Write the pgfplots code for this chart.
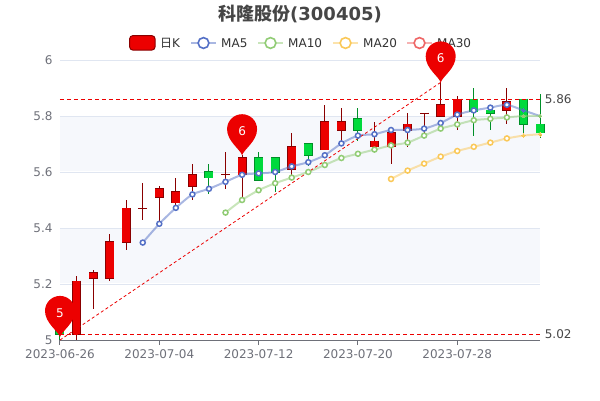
\documentclass[border=0pt]{standalone}
\usepackage{pgfplots}
\usepackage{pgfplotstable}
\pgfplotsset{compat=1.18}
\usepackage{fontspec}
\setmainfont{DejaVu Sans}
\newfontfamily\cjk{Noto Sans CJK SC}

\definecolor{kred}{HTML}{EC0000}
\definecolor{kreddark}{HTML}{8A0000}
\definecolor{kgreen}{HTML}{00DA3C}
\definecolor{kgreendark}{HTML}{008F28}
\definecolor{ma5}{HTML}{5470C6}
\definecolor{ma10}{HTML}{91CC75}
\definecolor{ma20}{HTML}{FAC858}
\definecolor{ma30}{HTML}{EE6666}
\definecolor{gridc}{HTML}{E0E6F1}
\definecolor{bandc}{HTML}{F6F8FC}
\definecolor{axisc}{HTML}{6E7079}
\definecolor{titlec}{HTML}{464646}
\definecolor{legc}{HTML}{333333}

% balloon with its tip on the data point
\pgfdeclareplotmark{pin}{%
  \pgfpathmoveto{\pgfqpoint{0pt}{0pt}}%
  \pgfpathcurveto{\pgfqpoint{-2pt}{6pt}}{\pgfqpoint{-15pt}{14pt}}{\pgfqpoint{-15pt}{26pt}}%
  \pgfpathcurveto{\pgfqpoint{-15pt}{34.3pt}}{\pgfqpoint{-8.3pt}{41pt}}{\pgfqpoint{0pt}{41pt}}%
  \pgfpathcurveto{\pgfqpoint{8.3pt}{41pt}}{\pgfqpoint{15pt}{34.3pt}}{\pgfqpoint{15pt}{26pt}}%
  \pgfpathcurveto{\pgfqpoint{15pt}{14pt}}{\pgfqpoint{2pt}{6pt}}{\pgfqpoint{0pt}{0pt}}%
  \pgfpathclose\pgfusepathqfill}

\pgfplotstableread{
i  low  bot  top  high
1  5.00 5.02 5.21 5.23
2  5.11 5.22 5.24 5.25
3  5.21 5.22 5.35 5.38
4  5.32 5.35 5.47 5.50
5  5.43 5.47 5.47 5.56
6  5.41 5.51 5.54 5.55
7  5.47 5.49 5.53 5.58
8  5.50 5.55 5.59 5.63
10 5.54 5.59 5.59 5.67
11 5.51 5.59 5.65 5.66
14 5.59 5.61 5.69 5.74
16 5.68 5.68 5.78 5.84
17 5.70 5.75 5.78 5.83
19 5.67 5.69 5.71 5.78
20 5.63 5.69 5.74 5.74
21 5.69 5.75 5.77 5.81
22 5.74 5.81 5.81 5.81
23 5.80 5.80 5.84 5.92
24 5.75 5.80 5.86 5.87
27 5.77 5.82 5.85 5.90
}\redk

\pgfplotstableread{
i  low  bot  top  high
0  5.00 5.02 5.035 5.04
9  5.52 5.58 5.60 5.63
12 5.57 5.57 5.65 5.67
13 5.53 5.60 5.65 5.65
15 5.62 5.66 5.70 5.70
18 5.71 5.75 5.79 5.83
25 5.73 5.815 5.86 5.90
26 5.75 5.81 5.82 5.84
28 5.74 5.77 5.86 5.86
29 5.72 5.74 5.77 5.88
}\greenk

\pgfplotstableread{
i  v
5  5.348
6  5.415
7  5.472
8  5.520
9  5.540
10 5.565
11 5.590
12 5.595
13 5.600
14 5.620
15 5.635
16 5.660
17 5.702
18 5.730
19 5.735
20 5.750
21 5.750
22 5.755
23 5.775
24 5.805
25 5.820
26 5.830
27 5.840
28 5.820
29 5.800
}\mafive

\pgfplotstableread{
i  v
10 5.455
11 5.500
12 5.535
13 5.560
14 5.580
15 5.600
16 5.625
17 5.650
18 5.665
19 5.680
20 5.695
21 5.705
22 5.730
23 5.755
24 5.770
25 5.785
26 5.790
27 5.795
28 5.800
29 5.800
}\maten

\pgfplotstableread{
i  v
20 5.575
21 5.605
22 5.630
23 5.655
24 5.675
25 5.690
26 5.705
27 5.720
28 5.730
29 5.735
}\matwenty

% #1 table, #2 fill, #3 border
\newcommand\candles[3]{%
  \addplot[draw=none, mark=none, forget plot,
    error bars/.cd, y dir=both, y explicit, error mark=none,
    error bar style={draw=#3, line width=1pt}]
    table[x=i, y=top, y error plus expr=\thisrow{high}-\thisrow{top},
      y error minus expr=\thisrow{top}-\thisrow{low}] {#1};
  \addplot[draw=none, mark=none, forget plot,
    error bars/.cd, y dir=both, y explicit, error mark=none,
    error bar style={draw=#3, line width=9pt}]
    table[x=i, y expr=\thisrow{top}+0.0018, y error plus expr=0,
      y error minus expr=\thisrow{top}-\thisrow{bot}+0.0036] {#1};
  \addplot[draw=none, mark=none, forget plot,
    error bars/.cd, y dir=both, y explicit, error mark=none,
    error bar style={draw=#2, line width=7.8pt}]
    table[x=i, y=top, y error plus expr=0,
      y error minus expr=\thisrow{top}-\thisrow{bot}] {#1};
}

\pgfplotsset{
  maline/.style={#1, draw opacity=0.5, line width=2pt, smooth, tension=0.4,
    mark=*, mark size=2.5pt,
    mark options={draw=#1, draw opacity=1, fill=white, line width=1.5pt}},
  maend/.style={color=#1, only marks, mark=*, mark size=1.8pt, forget plot,
    mark options={draw=#1, fill=#1, line width=0pt}},
}

\begin{document}
\begin{tikzpicture}
\path[use as bounding box] (-60pt,-60pt) rectangle (540pt,340pt);

% title and legend, in pixels of the image
\begin{scope}[shift={(-60pt,340pt)}, x=1pt, y=-1pt]
  \node[text=titlec, font=\fontsize{18}{18}\selectfont\bfseries] at (300,14)
    {{\cjk 科隆股份}(300405)};
  \fill[kred, draw=kreddark, line width=1pt, rounded corners=3pt]
    (129.7,35.7) rectangle (155,50);
  \node[anchor=west, inner sep=0pt, text=legc, font=\fontsize{12}{12}\selectfont] at (160,43) {{\cjk 日}K};
  \foreach \x/\c/\t in {191/ma5/MA5, 258/ma10/MA10, 333/ma20/MA20, 407/ma30/MA30} {
    \draw[\c, opacity=0.5, line width=2pt] (\x,43) -- ++(25,0);
    \draw[\c, fill=white, line width=1.6pt] (\x+12.5,43) circle (5.4);
    \node[anchor=west, inner sep=0pt, text=legc, font=\fontsize{12}{12}\selectfont] at (\x+30,43) {\t};
  }
\end{scope}

\begin{axis}[
    at={(0pt,0pt)}, anchor=origin,
    scale only axis, width=480pt, height=280pt,
    xmin=0, xmax=29, ymin=5, ymax=6,
    clip=false,
    axis x line*=bottom, axis y line*=left,
    y axis line style={draw=none},
    x axis line style={draw=axisc, line width=1pt, -},
    xtick={0,6,12,18,24},
    xticklabels={2023-06-26,2023-07-04,2023-07-12,2023-07-20,2023-07-28},
    ytick={5,5.2,5.4,5.6,5.8,6},
    ymajorgrids,
    grid style={gridc, line width=1pt},
    tick align=outside,
    major tick length=5pt,
    x tick style={draw=axisc, line width=1pt},
    y tick style={draw=none},
    tick label style={text=axisc, font=\fontsize{12}{12}\selectfont},
    xticklabel style={yshift=-1pt},
    yticklabel style={/pgf/number format/fixed, /pgf/number format/assume math mode=true, xshift=1pt},
  ]

  % alternating bands
  \addplot[fill=bandc, draw=none, forget plot]
    coordinates {(0,5.2018)(29,5.2018)(29,5.3982)(0,5.3982)} -- cycle;
  \addplot[fill=bandc, draw=none, forget plot]
    coordinates {(0,5.6018)(29,5.6018)(29,5.7982)(0,5.7982)} -- cycle;

  \candles{\redk}{kred}{kreddark}
  \candles{\greenk}{kgreen}{kgreendark}

  % the last points of each line carry small solid dots only
  \addplot[maline=ma5, mark indices={1,...,23}] table[x=i, y=v] {\mafive};
  \addplot[maline=ma10, mark indices={1,...,18}] table[x=i, y=v] {\maten};
  \addplot[maline=ma20, mark indices={1,...,8}] table[x=i, y=v] {\matwenty};
  \addplot[maend=ma5] coordinates {(28,5.820)};
  \addplot[maend=ma10] coordinates {(28,5.800)(29,5.800)};
  \addplot[maend=ma20] coordinates {(28,5.730)(29,5.735)};

  % mark lines
  \addplot[color=kred, line width=1pt, dash pattern=on 4pt off 3pt, mark=none]
    coordinates {(0,5.02)(29,5.02)} node[pos=1, anchor=west, xshift=1pt, text=titlec,
      font=\fontsize{12}{12}\selectfont] {5.02};
  \addplot[color=kred, line width=1pt, dash pattern=on 4pt off 3pt, mark=none]
    coordinates {(0,5.86)(29,5.86)} node[pos=1, anchor=west, xshift=1pt, text=titlec,
      font=\fontsize{12}{12}\selectfont] {5.86};
  \addplot[color=kred, line width=0.8pt, dash pattern=on 3pt off 2.5pt, mark=none]
    coordinates {(0,5.00)(23,5.92)};

  % highest and lowest balloons
  \addplot[only marks, mark=pin, mark options={fill=kred, draw=none},
    nodes near coords, point meta=explicit symbolic,
    every node near coord/.style={anchor=center, yshift=24pt, text=white,
      font=\fontsize{12}{12}\selectfont}]
    coordinates {(0,5.011)[5] (11,5.66)[6] (23,5.92)[6]};
\end{axis}
\end{tikzpicture}
\end{document}
